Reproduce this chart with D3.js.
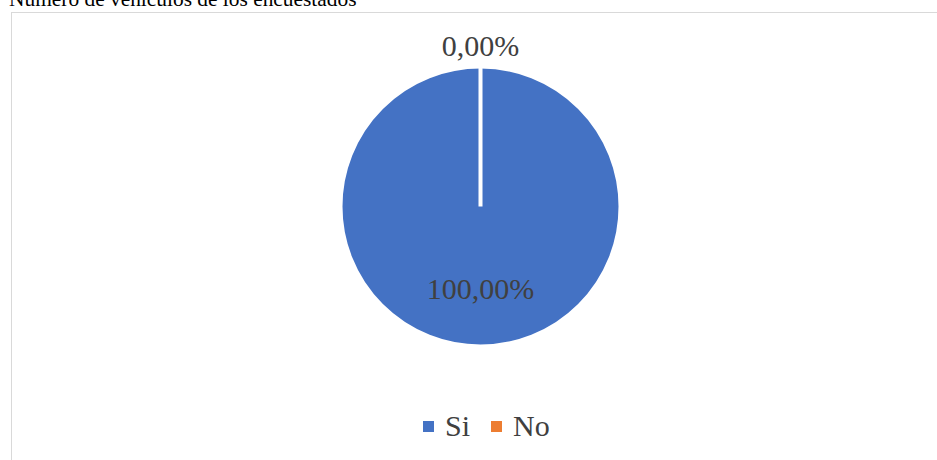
<!DOCTYPE html>
<html>
<head>
<meta charset="utf-8">
<script src="https://cdn.jsdelivr.net/npm/d3@7"></script>
<style>
  html, body { margin: 0; padding: 0; background: #fff; }
  svg { display: block; }
  svg text { font-family: "Liberation Serif", "DejaVu Serif", serif; }
</style>
</head>
<body>
<svg id="chart" width="937" height="460"></svg>
<script>
const title = "Número de vehículos de los encuestados";
const categories = ["Si", "No"];
const values = [100, 0];
const labels = ["100,00%", "0,00%"];
const colors = ["#4472C4", "#ED7D31"];

const svg = d3.select("#chart");

// chart frame (extends past right/bottom edges)
svg.append("rect")
  .attr("x", 11.5).attr("y", 12.5)
  .attr("width", 940).attr("height", 460)
  .attr("fill", "#fff")
  .attr("stroke", "#d9d9d9").attr("stroke-width", 1);

// title (partly clipped at top, as in the reference)
svg.append("text")
  .attr("x", 9).attr("y", 6)
  .style("font-size", "21.4px")
  .attr("fill", "#000")
  .text(title);

const cx = 480.5, cy = 206.5, r = 140;
const data = categories.map((c, i) => ({ cat: c, value: values[i], label: labels[i], color: colors[i] }));

const pie = d3.pie().sort(null).value(d => d.value);
const arcs = pie(data);
const arc = d3.arc().innerRadius(0).outerRadius(r);

const g = svg.append("g").attr("transform", `translate(${cx},${cy})`);
g.selectAll("path.slice")
  .data(arcs)
  .join("path")
  .attr("class", "slice")
  .attr("d", arc)
  .attr("fill", d => d.data.color)
  .attr("stroke", "#fff")
  .attr("stroke-width", 4)
  .attr("stroke-linejoin", "miter");

// data labels
const labelPos = { "Si": [0, 92.5], "No": [0, -150.5] };
g.selectAll("text.lbl")
  .data(arcs)
  .join("text")
  .attr("class", "lbl")
  .attr("x", d => labelPos[d.data.cat][0])
  .attr("y", d => labelPos[d.data.cat][1])
  .attr("text-anchor", "middle")
  .style("font-size", "30px")
  .attr("fill", "#404040")
  .text(d => d.data.label);

// legend
const legendX = [423, 491];
const leg = svg.append("g");
const items = leg.selectAll("g").data(data).join("g")
  .attr("transform", (d, i) => `translate(${legendX[i]},421)`);
items.append("rect")
  .attr("width", 11).attr("height", 11)
  .attr("fill", d => d.color);
items.append("text")
  .attr("x", 22).attr("y", 15)
  .style("font-size", "30px")
  .attr("fill", "#404040")
  .text(d => d.cat);
</script>
</body>
</html>
